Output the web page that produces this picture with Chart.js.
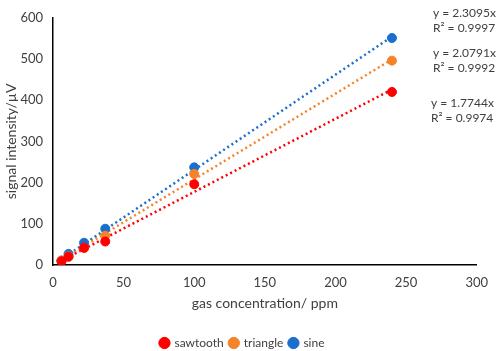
<!DOCTYPE html>
<html>
<head>
<meta charset="utf-8">
<script src="https://cdn.jsdelivr.net/npm/chart.js@4"></script>
<style>
  html, body { margin: 0; padding: 0; background: #fff; }
  #wrap { width: 498px; height: 351px; }
</style>
</head>
<body>
<div id="wrap"><canvas id="chart"></canvas></div>
<script>
// gas concentration (ppm)
const concentrations = [6, 11, 22, 37, 100, 240];

// signal intensity (µV) per waveform
const sawtooth = [9, 20, 42, 57, 196, 420];
const triangle = [10, 21, 41, 71, 221, 496];
const sine = [11, 27, 54, 88, 237, 551];

// trendline ends (x = 6 and x = 240)
const trendX = [6, 240];
const sawtoothTrend = [10.6, 425.9];
const triangleTrend = [12.5, 499.0];
const sineTrend = [13.9, 554.3];

const seriesNames = ['sawtooth', 'triangle', 'sine'];
const seriesColors = ['#ff0000', '#f5832a', '#1a6fce'];
const fitLabels = [
    ['y = 1.7744x', 'R² = 0.9974'],
    ['y = 2.0791x', 'R² = 0.9992'],
    ['y = 2.3095x', 'R² = 0.9997'],
];

const xTicks = [0, 50, 100, 150, 200, 250, 300];
const yTicks = [0, 100, 200, 300, 400, 500, 600];

const FONT = "Lato, 'Open Sans', sans-serif";
const TEXT = '#404040';

function toPoints(xs, ys) {
    return xs.map((x, i) => ({ x: x, y: ys[i] }));
}

const pointSets = [sawtooth, triangle, sine];
const trendSets = [sawtoothTrend, triangleTrend, sineTrend];

const datasets = [];
trendSets.forEach((values, i) => {
    datasets.push({
        label: seriesNames[i] + ' fit',
        data: toPoints(trendX, values),
        showLine: true,
        borderColor: seriesColors[i],
        borderWidth: 2.5,
        borderDash: [2, 3],
        borderCapStyle: 'butt',
        pointRadius: 0,
        fill: false,
        order: 2,
    });
});
pointSets.forEach((values, i) => {
    datasets.push({
        label: seriesNames[i],
        data: toPoints(concentrations, values),
        showLine: false,
        backgroundColor: seriesColors[i],
        borderColor: seriesColors[i],
        pointRadius: 4.5,
        pointHoverRadius: 4.5,
        order: 1,
    });
});

// Equation boxes at the right, like Excel's trendline labels
const fitLabelPlugin = {
    id: 'fitLabels',
    afterDraw(chart) {
        const ctx = chart.ctx;
        const spots = [[431, 103], [433, 53], [433, 13]];
        ctx.save();
        ctx.font = '12px ' + FONT;
        ctx.fillStyle = TEXT;
        ctx.textBaseline = 'middle';
        ctx.textAlign = 'left';
        fitLabels.forEach((lines, i) => {
            const [x, y] = spots[i];
            ctx.fillText(lines[0], x, y);
            ctx.fillText(lines[1], x, y + 15);
        });
        ctx.restore();
    },
};

// push the legend a little lower than Chart.js would put it
const legendShift = {
    id: 'legendShift',
    afterLayout(chart) {
        const legend = chart.legend;
        if (legend) {
            legend.top += 8;
            legend.bottom += 8;
        }
    },
};

new Chart(document.getElementById('chart'), {
    type: 'scatter',
    data: { datasets: datasets },
    plugins: [fitLabelPlugin, legendShift],
    options: {
        responsive: true,
        maintainAspectRatio: false,
        animation: false,
        layout: { padding: { left: 0, right: 13, top: 6, bottom: 0 } },
        plugins: {
            legend: {
                position: 'bottom',
                labels: {
                    usePointStyle: true,
                    pointStyle: 'circle',
                    boxWidth: 8,
                    boxHeight: 8,
                    padding: 6,
                    color: TEXT,
                    font: { family: FONT, size: 12 },
                    filter: (item) => !item.text.endsWith(' fit'),
                },
            },
            tooltip: { enabled: false },
        },
        scales: {
            x: {
                type: 'linear',
                min: 0,
                max: 300,
                afterBuildTicks: (scale) => {
                    scale.ticks = xTicks.map((v) => ({ value: v }));
                },
                afterFit: (scale) => { scale.height = 58; },
                grid: { display: false, drawTicks: false },
                border: { display: true, color: '#000', width: 1.5 },
                ticks: { color: TEXT, padding: 10, font: { family: FONT, size: 13 } },
                title: {
                    display: true,
                    text: 'gas concentration/ ppm',
                    color: TEXT,
                    padding: { top: 4, bottom: 11 },
                    font: { family: FONT, size: 14 },
                },
            },
            y: {
                type: 'linear',
                min: 0,
                max: 600,
                afterBuildTicks: (scale) => {
                    scale.ticks = yTicks.map((v) => ({ value: v }));
                },
                afterFit: (scale) => { scale.width = 53; },
                grid: { display: false, drawTicks: false },
                border: { display: true, color: '#000', width: 1.5 },
                ticks: { color: TEXT, padding: 10, font: { family: FONT, size: 13 } },
                title: {
                    display: true,
                    text: 'signal intensity/µV',
                    color: TEXT,
                    padding: { top: 3, bottom: 2 },
                    font: { family: FONT, size: 14 },
                },
            },
        },
    },
});
</script>
</body>
</html>
